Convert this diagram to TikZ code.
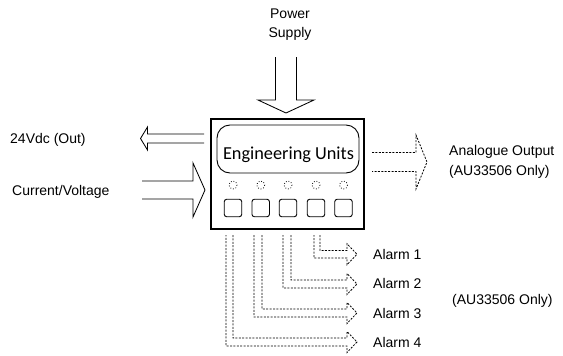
\documentclass[tikz,border=0pt]{standalone}
\usepackage{fontspec}
\setmainfont{Liberation Sans}
\newfontfamily\engfont{Carlito}
\begin{document}
\begin{tikzpicture}[x=1pt,y=-1pt,
  lbl/.style={inner sep=0pt, font=\fontsize{14}{16}\selectfont},
  openarrow/.style={line width=0.85pt, line join=miter},
  dasharrow/.style={line width=0.8pt, dash pattern=on 2pt off 1.4pt, line join=miter},
  led/.style={line width=0.8pt, dash pattern=on 0.8pt off 1.9pt},
  btn/.style={draw, line width=0.9pt, rounded corners=2.5pt, minimum width=17.5pt, minimum height=17.5pt, inner sep=0pt}]
\useasboundingbox (0,0) rectangle (563,356);

% main unit
\node[draw, line width=1.1pt, minimum width=153pt, minimum height=110pt, inner sep=0pt] (unit) at (287.5,174) {};
\node[draw, line width=0.9pt, rounded corners=13pt, minimum width=142pt, minimum height=48pt, inner sep=0pt] (disp) at (288,149) {};
\node[anchor=base, inner sep=0pt, font=\engfont\fontsize{18.3}{20}\selectfont] (eng) at (288.5,159.5) {Engineering Units};

% LEDs and buttons
\foreach \i/\x in {1/233,2/260.7,3/288,4/316,5/343.5}{
  \draw[led] (\x,185) circle[radius=4];
  \node[btn] (b\i) at (\x,208) {};
}

% power supply
\node[lbl, anchor=base] (pw) at (290,19) {Power};
\node[lbl, anchor=base] (sup) at (290,37) {Supply};
\draw[openarrow] (275.5,57) -- (275.5,100) -- (258,100) -- (286,113) -- (314,100) -- (296.5,100) -- (296.5,57);

% 24Vdc out
\node[lbl, anchor=base west] (vdc) at (10,143) {24Vdc (Out)};
\draw[openarrow] (204,134) -- (147.5,134) -- (147.5,127) -- (140.5,138.5) -- (147.5,150) -- (147.5,143) -- (204,143);

% current / voltage in
\node[lbl, anchor=base west] (cv) at (12,195.5) {Current/Voltage};
\draw[openarrow] (142,181) -- (193,181) -- (193,163) -- (205,190) -- (193,217) -- (193,199) -- (142,199);

% analogue output
\draw[dasharrow] (372,152.5) -- (416,152.5) -- (416,135) -- (427,162) -- (416,189) -- (416,171.5) -- (372,171.5);
\node[lbl, anchor=base west] (ao) at (449,155) {Analogue Output};
\node[lbl, anchor=base west] (ao2) at (449,175.5) {(AU33506 Only)};

% alarms
\foreach \k/\xo/\xi/\yt/\yb/\yl in {1/314/320/250.5/258/259, 2/283/291/280/288/288.5, 3/254/262/309/317/318, 4/226/233/338/346/347.5}{
  \pgfmathsetmacro{\yc}{(\yt+\yb)/2}
  \draw[dasharrow] (\xi,235) -- (\xi,\yt) -- (347,\yt) -- (347,\yc-10.5) -- (357,\yc) -- (347,\yc+10.5) -- (347,\yb) -- (\xo,\yb) -- (\xo,235);
  \node[lbl, anchor=base west] (al\k) at (373,\yl) {Alarm \k};
}
\node[lbl, anchor=base west] (only) at (452,304) {(AU33506 Only)};
\end{tikzpicture}
\end{document}
